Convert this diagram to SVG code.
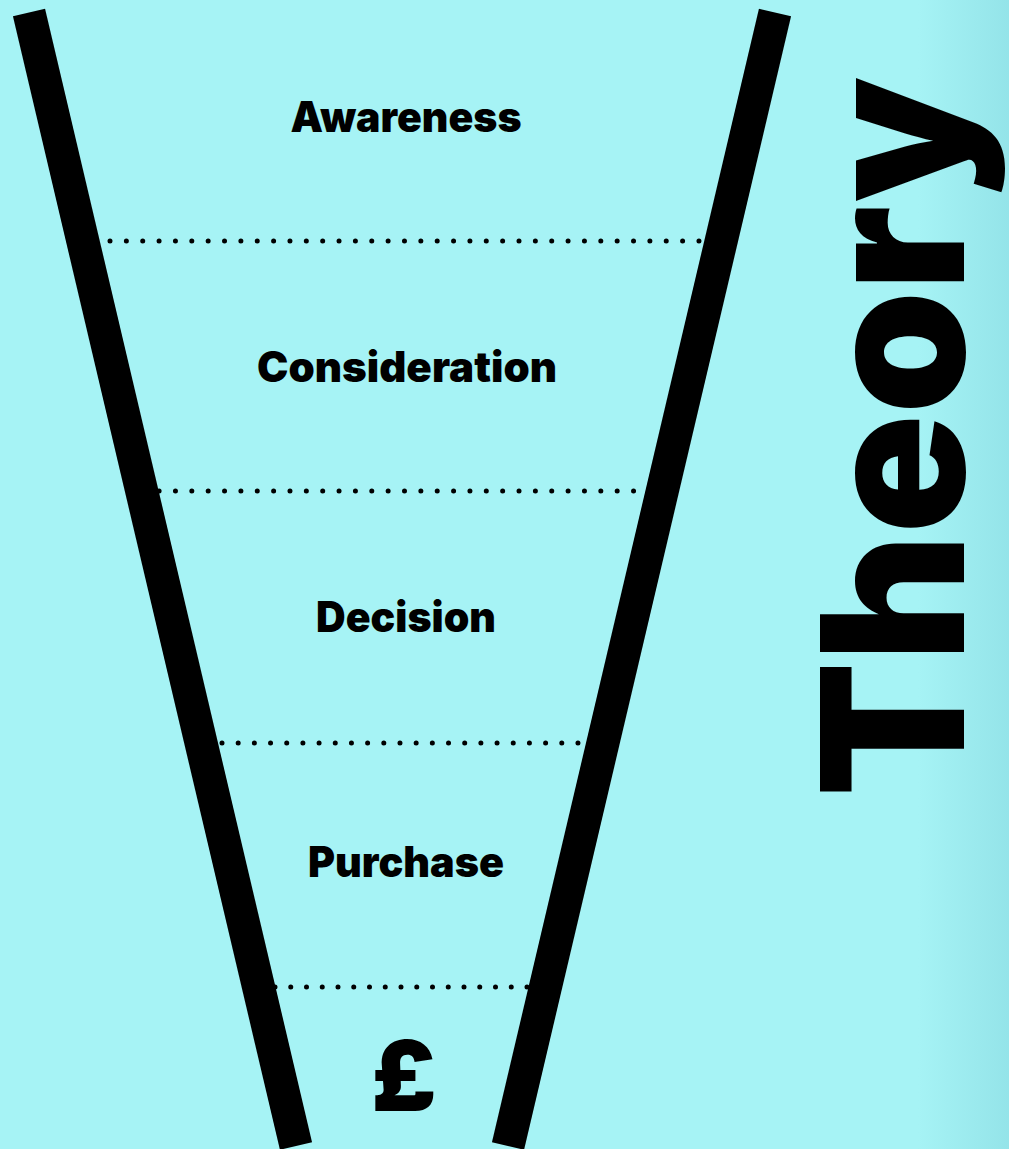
<svg xmlns="http://www.w3.org/2000/svg" width="1009" height="1149" viewBox="0 0 1009 1149">
  <defs>
    <linearGradient id="bg" x1="0" y1="0" x2="1009" y2="0" gradientUnits="userSpaceOnUse">
      <stop offset="0" stop-color="#a6f3f5"/>
      <stop offset="0.91" stop-color="#a6f3f5"/>
      <stop offset="1" stop-color="#94e4e9"/>
    </linearGradient>
    <style>
      .wall { stroke: #000; stroke-width: 33; stroke-linecap: butt; fill: none; }
      .dots { stroke: #000; stroke-width: 5; stroke-linecap: round; fill: none; }
      .stage { font-family: Inter, Lato, "Liberation Sans", sans-serif; font-weight: 900; font-size: 42px; fill: #000; text-anchor: middle; }
      .title { font-family: Inter, Lato, "Liberation Sans", sans-serif; font-weight: 900; font-size: 198px; fill: #000; }
    </style>
  </defs>

  <rect x="0" y="0" width="1009" height="1149" fill="url(#bg)"/>

  <!-- dotted dividers between the funnel stages -->
  <g id="connectors">
    <line class="dots" x1="110" y1="241" x2="699.2" y2="241" stroke-dasharray="0 16.36"/>
    <line class="dots" x1="159.1" y1="491" x2="634" y2="491" stroke-dasharray="0 16.36"/>
    <line class="dots" x1="222" y1="743" x2="578.2" y2="743" stroke-dasharray="0 16.18"/>
    <line class="dots" x1="275" y1="987" x2="527.2" y2="987" stroke-dasharray="0 15.75"/>
  </g>

  <!-- funnel walls -->
  <g id="funnel">
    <line class="wall" x1="29" y1="12.5" x2="296" y2="1146"/>
    <line class="wall" x1="775" y1="12.5" x2="508" y2="1146"/>
  </g>

  <g id="awareness">
    <text class="stage" x="406" y="132" textLength="231" lengthAdjust="spacingAndGlyphs">Awareness</text>
  </g>
  <g id="consideration">
    <text class="stage" x="407" y="382" textLength="300" lengthAdjust="spacingAndGlyphs">Consideration</text>
  </g>
  <g id="decision">
    <text class="stage" x="406" y="632" textLength="180" lengthAdjust="spacingAndGlyphs">Decision</text>
  </g>
  <g id="purchase">
    <text class="stage" x="406" y="877" textLength="196" lengthAdjust="spacingAndGlyphs">Purchase</text>
  </g>
  <g id="pound">
    <text class="stage" x="404" y="1111" style="font-size:98px">£</text>
  </g>

  <g id="theory">
    <text class="title" transform="translate(964,797) rotate(-90)" x="0" y="0" textLength="720" lengthAdjust="spacingAndGlyphs">Theory</text>
  </g>
</svg>
